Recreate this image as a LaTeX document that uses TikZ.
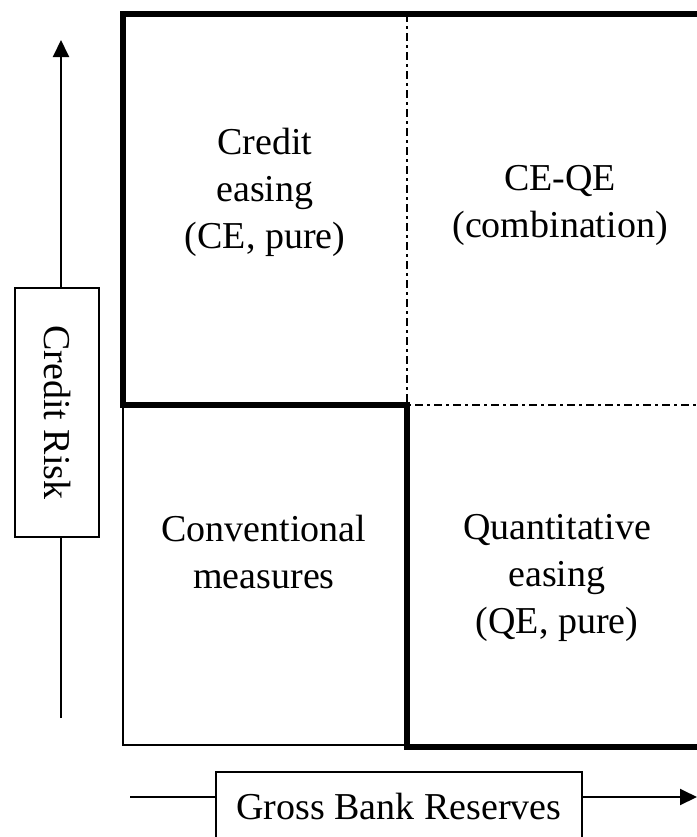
\documentclass[tikz,border=0pt]{standalone}
\usepackage{fontspec}
\setmainfont{Liberation Serif}
\usetikzlibrary{arrows.meta, positioning}

\begin{document}
\begin{tikzpicture}[
      x=0.5pt, y=-0.5pt,
      cell/.style = {align=center, font=\fontsize{19}{23.5}\selectfont},
      etiqueta/.style = {shape=rectangle, draw, line width=1pt, fill=white,
        inner sep=0pt, font=\fontsize{19}{23.5}\selectfont
      },
      grueso/.style = {line width=3pt},
      fino/.style = {line width=1pt},
      punteado/.style = {line width=1.2pt, dash pattern=on 4pt off 2pt on 1.5pt off 2pt},
      eje/.style = {line width=1pt, -{Triangle[length=8.5pt, width=8pt]}}
    ]
        \useasboundingbox (0,0) rectangle (697,837);
        \clip (0,0) rectangle (697,837);

        % esquinas de la matriz
        \coordinate (tl) at (123,14);
        \coordinate (ml) at (123,405);
        \coordinate (bl) at (123,745);
        \coordinate (tm) at (407,14);
        \coordinate (mm) at (407,405);
        \coordinate (bm) at (407,745);
        \coordinate (tr) at (713,14);
        \coordinate (mr) at (713,405);
        \coordinate (br) at (713,747);

        \draw[fino] (ml) -- (bl) -- (bm);
        \draw[punteado] (tm) -- (mm) -- (mr);
        \draw[grueso] (tr) -- (tl) -- (ml) -- (mm) -- (bm |- br) -- (br);

        \node[cell] (ce) at (265,192) {Credit \\ easing \\ (CE, pure)};
        \node[cell] (ceqe) at (560,205) {CE-QE \\ (combination)};
        \node[cell] (conv) at (264,552) {Conventional \\ measures};
        \node[cell] (qe) at (557,578) {Quantitative \\ easing \\ (QE, pure)};

        % ejes
        \coordinate (ybot) at (61,718);
        \coordinate (ytop) at (61,40);
        \coordinate (xleft) at (130,797);
        \coordinate (xright) at (697,797);
        \draw[eje] (ybot) -- (ytop);
        \draw[eje] (xleft) -- (xright);

        \node[etiqueta, rotate=-90, minimum width=124.5pt, minimum height=42pt]
          (riesgo) at (57,412.5) {Credit Risk};
        \node[etiqueta, anchor=north, minimum width=183pt,
          text height=23.5pt, text depth=60pt] (reservas) at (399,771) {Gross Bank Reserves};
    \end{tikzpicture}
\end{document}
